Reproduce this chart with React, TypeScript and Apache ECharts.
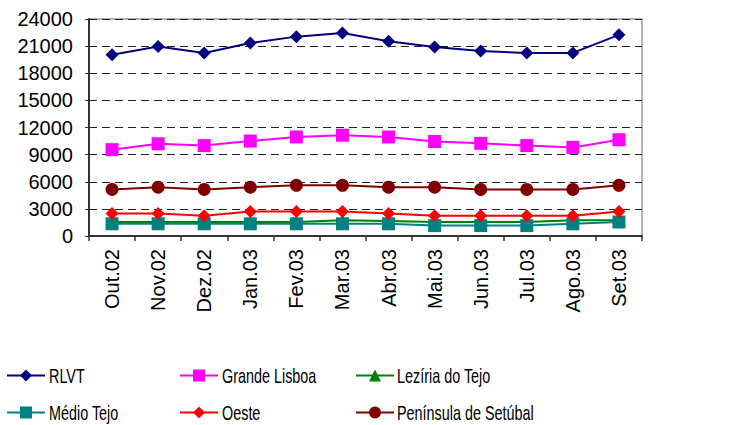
import React, { useEffect, useRef } from "react";
import * as echarts from "echarts";

// Monthly values, Oct 2002 – Sep 2003
const months = ["Out.02", "Nov.02", "Dez.02", "Jan.03", "Fev.03", "Mar.03", "Abr.03", "Mai.03", "Jun.03", "Jul.03", "Ago.03", "Set.03"];

const rlvt = [20050, 20950, 20250, 21350, 22050, 22450, 21550, 20900, 20450, 20250, 20250, 22250];
const grandeLisboa = [9550, 10200, 10000, 10500, 10950, 11150, 10950, 10450, 10250, 10000, 9800, 10650];
const leziriaTejo = [1550, 1550, 1550, 1550, 1550, 1750, 1650, 1550, 1550, 1550, 1750, 1750];
const medioTejo = [1350, 1350, 1350, 1350, 1350, 1350, 1350, 1150, 1150, 1150, 1350, 1550];
const oeste = [2500, 2500, 2250, 2700, 2700, 2700, 2500, 2250, 2250, 2250, 2250, 2700];
const peninsulaSetubal = [5150, 5400, 5150, 5400, 5600, 5600, 5400, 5400, 5150, 5150, 5150, 5600];

const yTicks = { min: 0, max: 24000, step: 3000 };

const FONT = "'Liberation Sans', Arial, sans-serif";

const seriesDefs = [
  { name: "RLVT", data: rlvt, color: "#000080", symbol: "diamond", size: 13 },
  { name: "Grande Lisboa", data: grandeLisboa, color: "#FF00FF", symbol: "rect", size: 13 },
  { name: "Lezíria do Tejo", data: leziriaTejo, color: "#008000", symbol: "triangle", size: 12 },
  { name: "Médio Tejo", data: medioTejo, color: "#008080", symbol: "rect", size: 13 },
  { name: "Oeste", data: oeste, color: "#FF0000", symbol: "diamond", size: 13 },
  { name: "Península de Setúbal", data: peninsulaSetubal, color: "#800000", symbol: "circle", size: 13 },
];

// legend slots: 3 columns x 2 rows (icon box left/top, label anchor)
const legendPos = [
  { left: 6, top: 368, tx: 49, ty: 376 },
  { left: 179, top: 368, tx: 222, ty: 376 },
  { left: 355, top: 368, tx: 397, ty: 376 },
  { left: 6, top: 405, tx: 49, ty: 413 },
  { left: 179, top: 405, tx: 222, ty: 413 },
  { left: 355, top: 405, tx: 397, ty: 413 },
];

export default function App() {
  const ref = useRef<HTMLDivElement>(null);

  useEffect(() => {
    if (!ref.current) return;
    const chart = echarts.init(ref.current, null, { renderer: "svg" });

    chart.setOption({
      animation: false,
      backgroundColor: "#ffffff",
      grid: {
        left: 89,
        right: 98,
        top: 19,
        bottom: 189,
        show: true,
        borderColor: "#9a9a9a",
        borderWidth: 1.5,
      },
      xAxis: {
        type: "category",
        data: months,
        boundaryGap: true,
        axisLine: { lineStyle: { color: "#333", width: 2 } },
        axisTick: { show: true, length: 5, lineStyle: { color: "#333", width: 1.5 } },
        axisLabel: {
          rotate: 90,
          margin: 13,
          color: "#000",
          fontFamily: FONT,
          fontSize: 20,
        },
      },
      yAxis: {
        type: "value",
        min: yTicks.min,
        max: yTicks.max,
        interval: yTicks.step,
        axisLine: { show: true, lineStyle: { color: "#333", width: 2 } },
        axisTick: { show: true, length: 4, lineStyle: { color: "#333" } },
        axisLabel: {
          margin: 16,
          color: "#000",
          fontFamily: FONT,
          fontSize: 20,
          formatter: (v: number) => String(v),
        },
        splitLine: {
          show: true,
          lineStyle: { color: "#222", type: [8, 5], width: 1 },
        },
      },
      // legend icons (line + marker); the condensed labels are drawn as graphic texts
      legend: seriesDefs.map((s, i) => ({
        data: [s.name],
        left: legendPos[i].left,
        top: legendPos[i].top,
        orient: "horizontal",
        itemWidth: 38,
        itemHeight: 15,
        itemGap: 0,
        padding: 0,
        formatter: () => "",
        textStyle: { fontSize: 1, padding: 0 },
      })),
      graphic: seriesDefs.map((s, i) => ({
        type: "text",
        x: legendPos[i].tx,
        y: legendPos[i].ty,
        scaleX: 0.72,
        silent: true,
        style: {
          text: s.name,
          fill: "#000",
          font: `20px ${FONT}`,
          verticalAlign: "middle",
          align: "left",
        },
      })),
      series: seriesDefs.map((s) => ({
        name: s.name,
        type: "line",
        data: s.data,
        symbol: s.symbol,
        symbolSize: s.size,
        showAllSymbol: true,
        lineStyle: { color: s.color, width: 2 },
        itemStyle: { color: s.color },
        emphasis: { disabled: true },
      })),
    });

    return () => chart.dispose();
  }, []);

  return (
    <div
      ref={ref}
      style={{ position: "fixed", left: 0, top: 0, width: 740, height: 425 }}
    />
  );
}
